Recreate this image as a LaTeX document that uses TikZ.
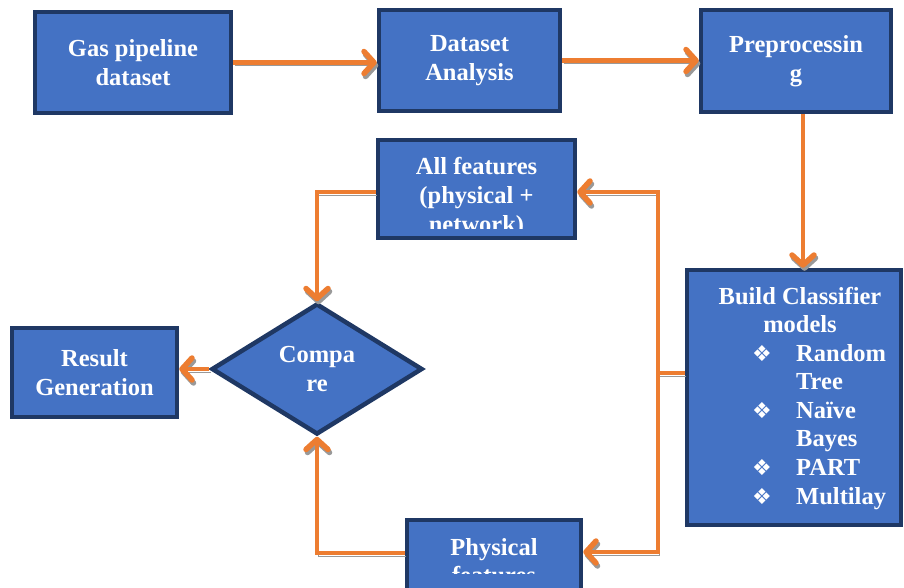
\documentclass[tikz,border=0pt]{standalone}
\usepackage{fontspec}
\setmainfont{Liberation Serif}
\newfontfamily\dingfont{DejaVu Sans}
\usetikzlibrary{positioning, arrows.meta, shapes.geometric}
\definecolor{boxblue}{HTML}{4472C4}
\definecolor{boxedge}{HTML}{1F3864}
\definecolor{flowor}{HTML}{ED7D31}
\newcommand{\dia}{\makebox[44pt][l]{\dingfont\fontsize{22}{24}\selectfont\symbol{"2756}}}

\begin{document}
\begin{tikzpicture}[
        x=1pt, y=-1pt,
        box/.style={draw=boxedge, fill=boxblue, line width=4.5pt, inner sep=0pt},
        decision/.style={diamond, draw=boxedge, fill=boxblue, line width=4.5pt, inner sep=0pt,
            minimum width=211pt, minimum height=131pt},
        lbl/.style={text=white, font=\bfseries\fontsize{24.5}{28.6}\selectfont, align=center, inner sep=0pt},
        flow/.style={draw=flowor, line width=4.5pt,
            -{Straight Barb[length=10pt,width=22pt,round,line width=5.5pt]},
            preaction={draw=black!40, transform canvas={shift={(1.5pt,-3pt)}}}},
        plainflow/.style={flow, -}
    ]
    \useasboundingbox (0,0) rectangle (904,588);

    % Nodes
    \node (gas) [box, lbl, minimum width=196pt, minimum height=101pt] at (133,62.5) {Gas pipeline\\dataset};
    \node (analysis) [box, lbl, minimum width=181pt, minimum height=101pt] at (469.5,60.5) {Dataset\\Analysis};
    \node (prep) [box, lbl, minimum width=190pt, minimum height=102pt] at (796,61) {Preprocessin\\g};
    \node (allfeat) [box, minimum width=197pt, minimum height=98pt] at (476.5,189) {};
    \node (build) [box, minimum width=214pt, minimum height=255pt] at (794,397.5) {};
    \node (compare) [decision, lbl] at (317,369) {Compa\\re};
    \node (result) [box, lbl, minimum width=165pt, minimum height=89pt] at (94.5,372.5) {Result\\Generation};
    \node (phys) [box, minimum width=174pt, minimum height=72pt] at (494,556) {};

    % Texts cut by their boxes
    \begin{scope}
        \clip (380,142) rectangle (573,228);
        \node (allfeattext) [lbl, anchor=base] at (476.5,175)
            {\begin{tabular}[t]{@{}c@{}}All features\\(physical +\\network)\end{tabular}};
    \end{scope}
    \begin{scope}
        \clip (409,522) rectangle (579,573);
        \node (phystext) [lbl, anchor=base] at (494,555)
            {\begin{tabular}[t]{@{}c@{}}Physical\\features\end{tabular}};
    \end{scope}
    \node (buildtitle) [lbl, anchor=base] at (800,304)
        {\begin{tabular}[t]{@{}c@{}}Build Classifier\\models\end{tabular}};
    \node (buildlist) [lbl, anchor=base west] at (752,361)
        {\begin{tabular}[t]{@{}l@{}l@{}}\dia & Random\\ & Tree\\ \dia & Naïve\\ & Bayes\\ \dia & PART\\ \dia & Multilay\end{tabular}};

    % Arrows
    \draw[flow] (gas.east) -- (gas.east -| analysis.west);
    \draw[flow] (analysis.east) -- (analysis.east -| prep.west);
    \draw[flow] ([xshift=7pt]prep.south) -- ([xshift=7pt]prep.south |- build.north);
    \coordinate (split) at (658,373);
    \draw[plainflow] (split -| build.west) -- (split);
    \draw[flow] (split) |- ([yshift=-3pt]allfeat.east);
    \draw[flow] (split) |- ([yshift=4pt]phys.east);
    \draw[flow] ([yshift=-3pt]allfeat.west) -| (compare.north);
    \draw[flow] ([yshift=3pt]phys.west) -| (compare.south);
    \draw[flow] (compare.west) -- (compare.west -| result.east);

\end{tikzpicture}
\end{document}
